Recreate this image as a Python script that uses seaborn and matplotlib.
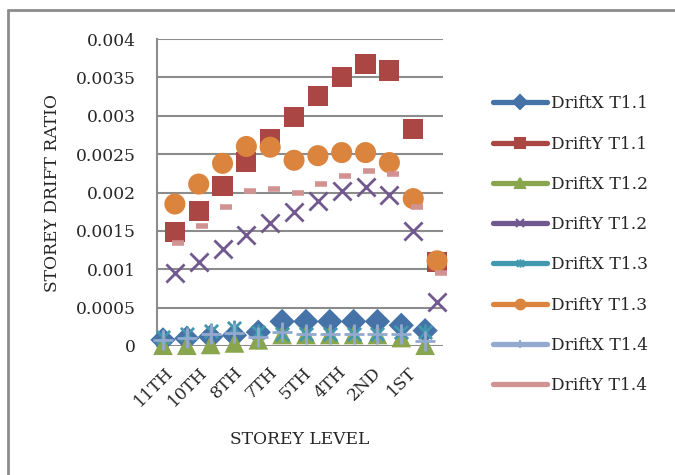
import matplotlib
matplotlib.use("Agg")
import matplotlib.pyplot as plt
from matplotlib.lines import Line2D
from matplotlib.path import Path
import seaborn as sns
import numpy as np

levels = ["12TH", "11TH", "10TH", "9TH", "8TH", "7TH", "6TH", "5TH", "4TH", "3RD", "2ND", "1ST"]
tick_labels = ["11TH", "10TH", "8TH", "7TH", "5TH", "4TH", "2ND", "1ST"]

driftx_t11 = [0.00008, 0.00010, 0.00012, 0.00014, 0.00018, 0.00032, 0.00032, 0.00032, 0.00032, 0.00032, 0.00027, 0.00020]
drifty_t11 = [0.00149, 0.00176, 0.00208, 0.00240, 0.00270, 0.00298, 0.00326, 0.00351, 0.00367, 0.00359, 0.00283, 0.00110]
driftx_t12 = [0.00001, 0.00001, 0.00002, 0.00004, 0.00008, 0.00015, 0.00015, 0.00015, 0.00015, 0.00015, 0.00011, 0.00001]
drifty_t12 = [0.00095, 0.00110, 0.00126, 0.00144, 0.00160, 0.00175, 0.00189, 0.00202, 0.00207, 0.00197, 0.00150, 0.00057]
driftx_t13 = [0.00012, 0.00016, 0.00020, 0.00023, 0.00018, 0.00016, 0.00016, 0.00016, 0.00016, 0.00016, 0.00018, 0.00018]
drifty_t13 = [0.00185, 0.00211, 0.00238, 0.00260, 0.00259, 0.00242, 0.00248, 0.00252, 0.00252, 0.00239, 0.00192, 0.00111]
driftx_t14 = [0.00008, 0.00011, 0.00015, 0.00017, 0.00012, 0.00018, 0.00016, 0.00016, 0.00016, 0.00016, 0.00015, 0.00007]
drifty_t14 = [0.00134, 0.00156, 0.00181, 0.00202, 0.00205, 0.00200, 0.00211, 0.00222, 0.00228, 0.00224, 0.00181, 0.00095]

# asterisk marker (Excel "star")
star = Path([(-1, -1), (1, 1), (-1, 1), (1, -1), (0, -1.2), (0, 1.2)],
            [Path.MOVETO, Path.LINETO, Path.MOVETO, Path.LINETO, Path.MOVETO, Path.LINETO])

# name, values, color, marker, size, filled, x offset
series = [
    ("DriftX T1.1", driftx_t11, "#4572A7", "D", 165, True, 0.25),
    ("DriftY T1.1", drifty_t11, "#AA4643", "s", 210, True, 0.75),
    ("DriftX T1.2", driftx_t12, "#89A54E", "^", 200, True, 0.25),
    ("DriftY T1.2", drifty_t12, "#71588F", "x", 170, False, 0.75),
    ("DriftX T1.3", driftx_t13, "#4198AF", star, 130, False, 0.25),
    ("DriftY T1.3", drifty_t13, "#DB843D", "o", 230, True, 0.75),
    ("DriftX T1.4", driftx_t14, "#93A9CF", "+", 220, False, 0.25),
    ("DriftY T1.4", drifty_t14, "#D19392", "_", 80, False, 0.9),
]

sns.set_style("white")
plt.rcParams["font.family"] = ["DejaVu Serif"]
fs = 12.3

fig = plt.figure(figsize=(6.75, 4.75), dpi=100)
ax = fig.add_axes([157 / 675, 1 - 346 / 475, 286 / 675, 307 / 475])

x = np.arange(len(levels))
for name, vals, color, marker, size, filled, off in series:
    if filled:
        sns.scatterplot(x=x + off, y=vals, ax=ax, marker=marker, s=size, color=color,
                        edgecolor="none", zorder=3, clip_on=False)
    else:
        lw = 4 if marker == "_" else 2
        sns.scatterplot(x=x + off, y=vals, ax=ax, marker=marker, s=size, color=color,
                        edgecolor=color, linewidth=lw, zorder=3, clip_on=False)

ax.set_xlim(0, len(levels))
ax.set_ylim(0, 0.004)
ax.set_yticks(np.arange(0, 0.00401, 0.0005))
ax.set_yticklabels(["0", "0.0005", "0.001", "0.0015", "0.002", "0.0025", "0.003", "0.0035", "0.004"])
ax.yaxis.grid(True, color="#8c8c8c", linewidth=1.5)
ax.set_axisbelow(True)
for side in ["top", "right", "bottom"]:
    ax.spines[side].set_visible(False)
ax.spines["left"].set_color("#8c8c8c")
ax.spines["left"].set_linewidth(1.5)
ax.tick_params(axis="y", length=6, width=1.5, color="#8c8c8c", labelsize=fs, pad=9)

ax.set_xticks(np.linspace(0.3, 10.5, len(tick_labels)))
ax.set_xticklabels(tick_labels, rotation=45, ha="right", va="top", rotation_mode="anchor", fontsize=fs)
ax.tick_params(axis="x", length=0, pad=13)

ax.set_xlabel("STOREY LEVEL", fontsize=fs, labelpad=15)
ax.set_ylabel("STOREY DRIFT RATIO", fontsize=fs, labelpad=11)

handles = []
for name, vals, color, marker, size, filled, off in series:
    if name == "DriftY T1.4":
        h = Line2D([], [], color=color, lw=3.8, solid_capstyle="round")
    else:
        h = Line2D([], [], color=color, lw=3.8, solid_capstyle="round", marker=marker,
                   markersize=7 if filled else 6, markeredgewidth=1.5,
                   markerfacecolor=color, markeredgecolor=color)
    handles.append(h)
fig.legend(handles=handles, labels=[s[0] for s in series], loc="upper left",
           bbox_to_anchor=(478 / 675, 1 - 80 / 475), frameon=False, fontsize=fs,
           handlelength=3.15, handletextpad=0.25, labelspacing=1.36)

# chart frame (top and left edges)
fig.add_artist(Line2D([8 / 675, 8 / 675], [0, 1 - 10 / 475], color="#8c8c8c", lw=2, transform=fig.transFigure))
fig.add_artist(Line2D([8 / 675, 1], [1 - 10 / 475, 1 - 10 / 475], color="#8c8c8c", lw=2, transform=fig.transFigure))

fig.savefig("out.png", dpi=100)
